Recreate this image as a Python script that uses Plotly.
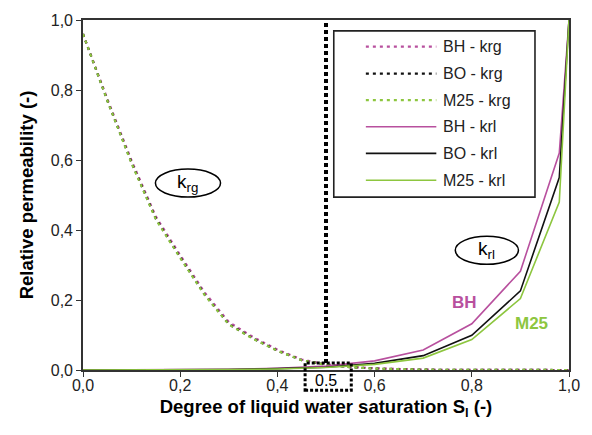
import plotly.graph_objects as go

# Saturation grids
sat_g = [0.00, 0.05, 0.10, 0.15, 0.20, 0.25, 0.30, 0.35, 0.40, 0.45, 0.50,
         0.55, 0.60, 0.65, 0.70, 0.75, 0.80, 0.85, 0.90, 0.95, 1.00]
sat_l = [0.00, 0.10, 0.20, 0.30, 0.40, 0.50, 0.60, 0.70, 0.80, 0.90, 0.98, 1.00]

# Gas relative permeability k_rg
krg_bh = [0.96, 0.775, 0.598, 0.438, 0.328, 0.222, 0.137, 0.094, 0.058, 0.030, 0.016,
          0.009, 0.005, 0.002, 0.001, 0.0005, 0.0, 0.0, 0.0, 0.0, 0.0]
krg_bo = [0.96, 0.770, 0.592, 0.432, 0.322, 0.216, 0.131, 0.090, 0.055, 0.028, 0.015,
          0.008, 0.004, 0.002, 0.001, 0.0005, 0.0, 0.0, 0.0, 0.0, 0.0]
krg_m25 = [0.96, 0.770, 0.590, 0.430, 0.320, 0.215, 0.130, 0.089, 0.055, 0.028, 0.015,
           0.008, 0.004, 0.002, 0.001, 0.0005, 0.0, 0.0, 0.0, 0.0, 0.0]

# Liquid relative permeability k_rl
krl_bh = [0.0, 0.0001, 0.0005, 0.002, 0.005, 0.011, 0.026, 0.057, 0.132, 0.282, 0.62, 1.0]
krl_bo = [0.0, 0.0001, 0.0004, 0.0015, 0.004, 0.008, 0.019, 0.041, 0.099, 0.226, 0.55, 1.0]
krl_m25 = [0.0, 0.0001, 0.0003, 0.0012, 0.003, 0.007, 0.016, 0.034, 0.087, 0.204, 0.48, 1.0]

names = ["BH - krg", "BO - krg", "M25 - krg", "BH - krl", "BO - krl", "M25 - krl"]
colors = ["#B8509E", "#111111", "#8DC63F", "#B8509E", "#111111", "#8DC63F"]
dashes = ["3px,4px", "3px,4px", "3px,4px", "solid", "solid", "solid"]
xs = [sat_g, sat_g, sat_g, sat_l, sat_l, sat_l]
ys = [krg_bh, krg_bo, krg_m25, krl_bh, krl_bo, krl_m25]
widths = [2.2, 2.2, 2.2, 1.6, 1.6, 1.6]

FONT = "Liberation Sans, Arial, sans-serif"

fig = go.Figure()
for x, y, n, c, d, w in zip(xs, ys, names, colors, dashes, widths):
    fig.add_trace(go.Scatter(x=x, y=y, name=n, mode="lines",
                             line=dict(color=c, dash=d, width=w),
                             showlegend=False, cliponaxis=True))

shapes = []
annotations = []

# Dotted marker at S_l = 0.5 and the small box around it
shapes.append(dict(type="line", xref="x", yref="y", x0=0.5, x1=0.5, y0=0.02, y1=0.997,
                   line=dict(color="black", width=4, dash="4px,3px")))
shapes.append(dict(type="rect", xref="x", yref="paper", x0=0.457, x1=0.552,
                   y0=-0.058, y1=0.02,
                   line=dict(color="black", width=3, dash="3px,2px")))
annotations.append(dict(x=0.5, y=-0.031, xref="x", yref="paper", text="0.5",
                        xanchor="center", yanchor="middle", showarrow=False,
                        font=dict(size=16, color="black", family=FONT)))

# Curve family labels
shapes.append(dict(type="circle", xref="x", yref="y", x0=0.149, x1=0.283,
                   y0=0.494, y1=0.574, line=dict(color="black", width=1.5)))
annotations.append(dict(x=0.216, y=0.534, xref="x", yref="y", text="k<sub>rg</sub>",
                        showarrow=False, font=dict(size=19, color="black", family=FONT)))
shapes.append(dict(type="circle", xref="x", yref="y", x0=0.766, x1=0.896,
                   y0=0.302, y1=0.382, line=dict(color="black", width=1.5)))
annotations.append(dict(x=0.831, y=0.342, xref="x", yref="y", text="k<sub>rl</sub>",
                        showarrow=False, font=dict(size=19, color="black", family=FONT)))
annotations.append(dict(x=0.785, y=0.192, xref="x", yref="y", text="<b>BH</b>",
                        showarrow=False, font=dict(size=17, color="#B8509E", family=FONT)))
annotations.append(dict(x=0.922, y=0.133, xref="x", yref="y", text="<b>M25</b>",
                        showarrow=False, font=dict(size=17, color="#8DC63F", family=FONT)))

# Legend box
shapes.append(dict(type="rect", xref="paper", yref="paper", x0=0.516, x1=0.930,
                   y0=0.494, y1=0.969, fillcolor="white",
                   line=dict(color="#222222", width=1.6), layer="above"))
row_y = [0.924, 0.847, 0.771, 0.695, 0.619, 0.542]
for n, c, d, w, ry in zip(names, colors, dashes, widths, row_y):
    shapes.append(dict(type="line", xref="paper", yref="paper", x0=0.582, x1=0.727,
                       y0=ry, y1=ry, layer="above",
                       line=dict(color=c, width=w, dash=d)))
    annotations.append(dict(x=0.736, y=ry, xref="paper", yref="paper", text=n,
                            xanchor="left", yanchor="middle", showarrow=False,
                            font=dict(size=16, color="#222222", family=FONT)))

fig.update_layout(
    width=592, height=435,
    margin=dict(l=83, r=21, t=16, b=65),
    paper_bgcolor="white", plot_bgcolor="white",
    separators=", ",
    font=dict(family=FONT, size=16, color="#222222"),
    shapes=shapes, annotations=annotations,
    xaxis=dict(range=[0, 1], tickvals=[0, 0.2, 0.4, 0.6, 0.8, 1.0], tickformat=".1f",
               showgrid=False, zeroline=False, showline=True, linecolor="#333333",
               linewidth=1.6, mirror=True, ticks="outside", ticklen=5, tickcolor="#333333",
               tickfont=dict(size=16), ticklabelstandoff=-5,
               title=dict(text="<b>Degree of liquid water saturation S<sub>l</sub> (-)</b>",
                          font=dict(size=18.5, color="black"), standoff=7)),
    yaxis=dict(range=[0, 1], tickvals=[0, 0.2, 0.4, 0.6, 0.8, 1.0], tickformat=".1f",
               showgrid=False, zeroline=False, showline=True, linecolor="#333333",
               linewidth=1.6, mirror=True, ticks="outside", ticklen=5, tickcolor="#333333",
               tickfont=dict(size=16),
               title=dict(text="<b>Relative permeability (-)</b>",
                          font=dict(size=18.5, color="black"), standoff=12)),
)

fig.write_html("out.html")
